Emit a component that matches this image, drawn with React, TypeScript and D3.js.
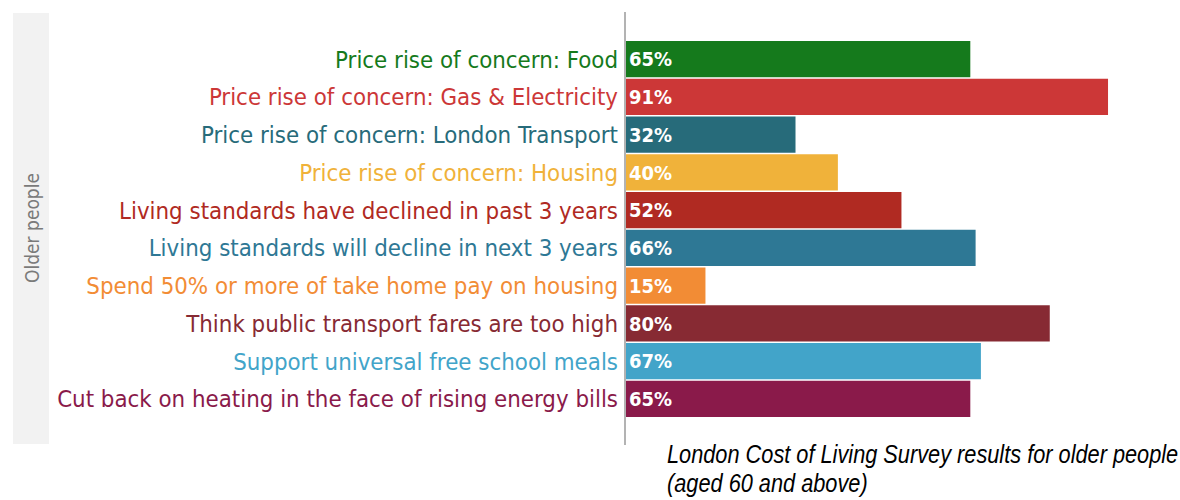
import React from "react";
import * as d3 from "d3";

const categories = [
  "Price rise of concern: Food",
  "Price rise of concern: Gas & Electricity",
  "Price rise of concern: London Transport",
  "Price rise of concern: Housing",
  "Living standards have declined in past 3 years",
  "Living standards will decline in next 3 years",
  "Spend 50% or more of take home pay on housing",
  "Think public transport fares are too high",
  "Support universal free school meals",
  "Cut back on heating in the face of rising energy bills",
];
const values = [65, 91, 32, 40, 52, 66, 15, 80, 67, 65];
const colors = [
  "#157a1c", "#cc3737", "#276b7a", "#f0b23a", "#b02a22",
  "#2e7895", "#f28c35", "#872a33", "#42a4c9", "#8a1a4a",
];
const panelLabel = "Older people";
const captionLines = [
  "London Cost of Living  Survey results for older people",
  "(aged 60 and above)",
];

export default function App() {
  const W = 1180, H = 500;
  const x = d3.scaleLinear().domain([0, 100]).range([626, 626 + 529.7]);
  const y = d3.scaleBand<string>().domain(categories).range([41, 417]).paddingInner(0.04);
  const labelFont = "'DejaVu Sans Condensed', 'Liberation Sans Narrow', sans-serif";
  return (
    <svg width={W} height={H} style={{ position: "absolute", left: 0, top: 0 }}>
      <rect x={0} y={0} width={W} height={H} fill="#fff" />
      <rect x={13} y={13} width={36} height={431} fill="#f2f2f2" />
      <text
        transform={`translate(39,228) rotate(-90)`}
        textAnchor="middle"
        fontFamily={labelFont}
        fontSize={19}
        fill="#7a7a7a"
      >
        {panelLabel}
      </text>
      <line x1={625} x2={625} y1={12} y2={445} stroke="#9a9a9a" strokeWidth={1.5} />
      {categories.map((c, i) => (
        <g key={c}>
          <rect
            x={x(0)}
            y={y(c)!}
            width={x(values[i]) - x(0)}
            height={y.bandwidth()}
            fill={colors[i]}
          />
          <text
            x={618}
            y={y(c)! + y.bandwidth() / 2}
            dy="0.36em"
            textAnchor="end"
            fontFamily={labelFont}
            fontSize={23.8}
            fill={colors[i]}
          >
            {c}
          </text>
          <text
            x={629}
            y={y(c)! + y.bandwidth() / 2}
            dy="0.36em"
            fontFamily={labelFont}
            fontSize={20}
            fontWeight="bold"
            fill="#fff"
          >
            {values[i]}%
          </text>
        </g>
      ))}
      {captionLines.map((t, i) => (
        <text
          key={i}
          transform={`translate(667,${463 + i * 29}) scale(0.87,1)`}
          fontFamily="'Liberation Sans', Arial, sans-serif"
          fontStyle="italic"
          fontSize={25}
          fill="#000"
        >
          {t}
        </text>
      ))}
    </svg>
  );
}
